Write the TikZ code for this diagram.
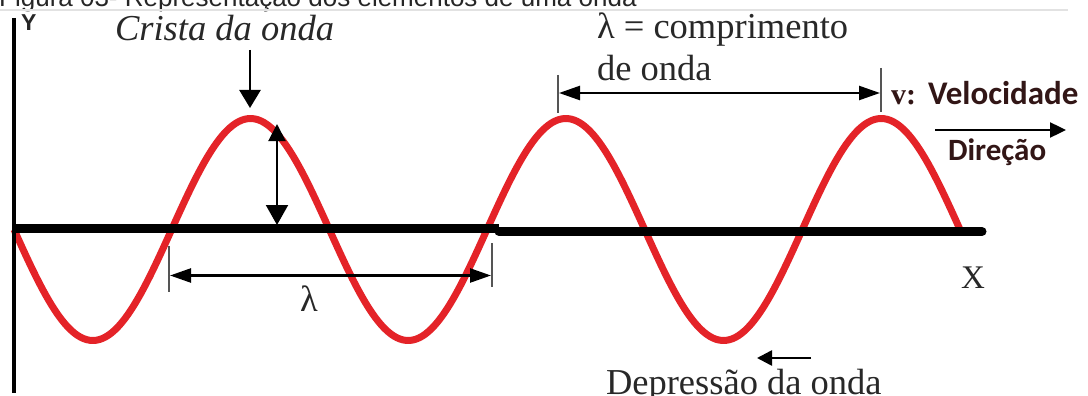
\documentclass[tikz,border=0pt]{standalone}
\usepackage{fontspec}
\setmainfont{Liberation Serif}
\newfontfamily\arialfont{Liberation Sans}
\newfontfamily\calfont{Carlito}
\usetikzlibrary{arrows.meta}
\definecolor{wavered}{RGB}{228,35,40}
\definecolor{labelbrown}{RGB}{50,22,22}
\definecolor{tickgray}{RGB}{85,85,85}
\definecolor{rulegray}{RGB}{226,226,226}
\definecolor{textgray}{RGB}{40,40,40}
\begin{document}
\begin{tikzpicture}[x=1pt,y=-1pt,
  serif/.style={inner sep=0pt, outer sep=0pt, text=textgray, font=\fontsize{36.5}{38}\selectfont},
  wave/.style={draw=wavered, line width=7pt, line join=round},
  axisline/.style={line width=9pt},
  tick/.style={draw=tickgray, line width=2.5pt},
  arr/.style={line width=2.6pt, -{Triangle[length=18pt,width=21pt]}},
  smallarr/.style={line width=2.6pt, -{Triangle[length=15pt,width=15pt]}},
  dimarr/.style={line width=2.4pt, {Triangle[length=21pt,width=14pt]}-{Triangle[length=21pt,width=14pt]}},
  amparr/.style={line width=2pt, {Triangle[length=17pt,width=17pt]}-{Triangle[length=20pt,width=22pt]}},
  sanslbl/.style={inner sep=0pt, outer sep=0pt, text=labelbrown, font=\calfont\bfseries\fontsize{33}{35}\selectfont}
]
\useasboundingbox (0,0) rectangle (1088,396);
\fill[white] (0,0) rectangle (1088,396);

% clipped title and rule
\node[anchor=base west, inner sep=0pt, text=black!85, font=\arialfont\fontsize{26}{28}\selectfont] (title) at (-1,7) {Figura 03- Representação dos elementos de uma onda};
\coordinate (ruleL) at (0,10);
\coordinate (ruleR) at (1068,10);
\draw[rulegray, line width=1.5pt] (ruleL) -- (ruleR);

% wave
\draw[wave] plot[domain=14:960, samples=300] (\x,{229.5+111*sin(1.141649*(\x-14))});

% axes
\coordinate (ytop) at (14,18);
\coordinate (ybot) at (14,393);
\coordinate (xl) at (14,228.5);
\coordinate (xm1) at (499,228.5);
\coordinate (xm2) at (499,231.5);
\coordinate (xr) at (982,231.5);
\draw[line width=4.6pt] (ytop) -- (ybot);
\draw[axisline] (xl) -- (xm1);
\draw[axisline, line cap=round] (xm2) -- (xr);

\node[anchor=base west, inner sep=0pt, text=black!85, font=\arialfont\bfseries\fontsize{23}{25}\selectfont] (ylbl) at (21,31) {Y};
\node[serif, anchor=base west, font=\fontsize{33}{35}\selectfont] (xlbl) at (961,288) {X};

% crest label and arrow
\node[serif, anchor=base west, font=\itshape\fontsize{36.5}{38}\selectfont] (crista) at (115,41) {Crista da onda};
\coordinate (cristaA) at (250,50);
\coordinate (cristaB) at (250,108);
\draw[arr] (cristaA) -- (cristaB);

% amplitude arrow
\coordinate (ampT) at (277,124);
\coordinate (ampB) at (277,225);
\draw[amparr] (ampT) -- (ampB);

% lower wavelength
\coordinate (l1t) at (169,246); \coordinate (l1b) at (169,292);
\coordinate (l2t) at (492,243); \coordinate (l2b) at (492,287);
\coordinate (l1) at (170,275.5); \coordinate (l2) at (491,275.5);
\draw[tick] (l1t) -- (l1b);
\draw[tick] (l2t) -- (l2b);
\draw[dimarr] (l1) -- (l2);
\node[serif, anchor=base] (lam) at (309,311) {λ};

% upper wavelength
\coordinate (u1t) at (558,75); \coordinate (u1b) at (558,113);
\coordinate (u2t) at (881,68); \coordinate (u2b) at (881,112);
\coordinate (u1) at (559,93); \coordinate (u2) at (880,93);
\draw[tick] (u1t) -- (u1b);
\draw[tick] (u2t) -- (u2b);
\draw[dimarr] (u1) -- (u2);
\node[serif, anchor=base west] (lamdef1) at (597,39) {λ = comprimento};
\node[serif, anchor=base west] (lamdef2) at (597,81) {de onda};

% velocity / direction
\node[serif, anchor=base west, text=labelbrown, font=\bfseries\fontsize{30}{32}\selectfont] (vlbl) at (891,105) {v:};
\node[sanslbl, anchor=base west] (vel) at (928,105) {Velocidade};
\coordinate (dirA) at (935,130);
\coordinate (dirB) at (1066,130);
\draw[arr, line width=2.4pt, -{Triangle[length=16pt,width=15pt]}] (dirA) -- (dirB);
\node[sanslbl, anchor=base west, font=\calfont\bfseries\fontsize{31}{33}\selectfont] (dir) at (948,160) {Direção};

% depression
\coordinate (depA) at (811,358);
\coordinate (depB) at (757,358);
\draw[smallarr] (depA) -- (depB);
\node[serif, anchor=base west] (dep) at (606,394) {Depressão da onda};
\end{tikzpicture}
\end{document}
